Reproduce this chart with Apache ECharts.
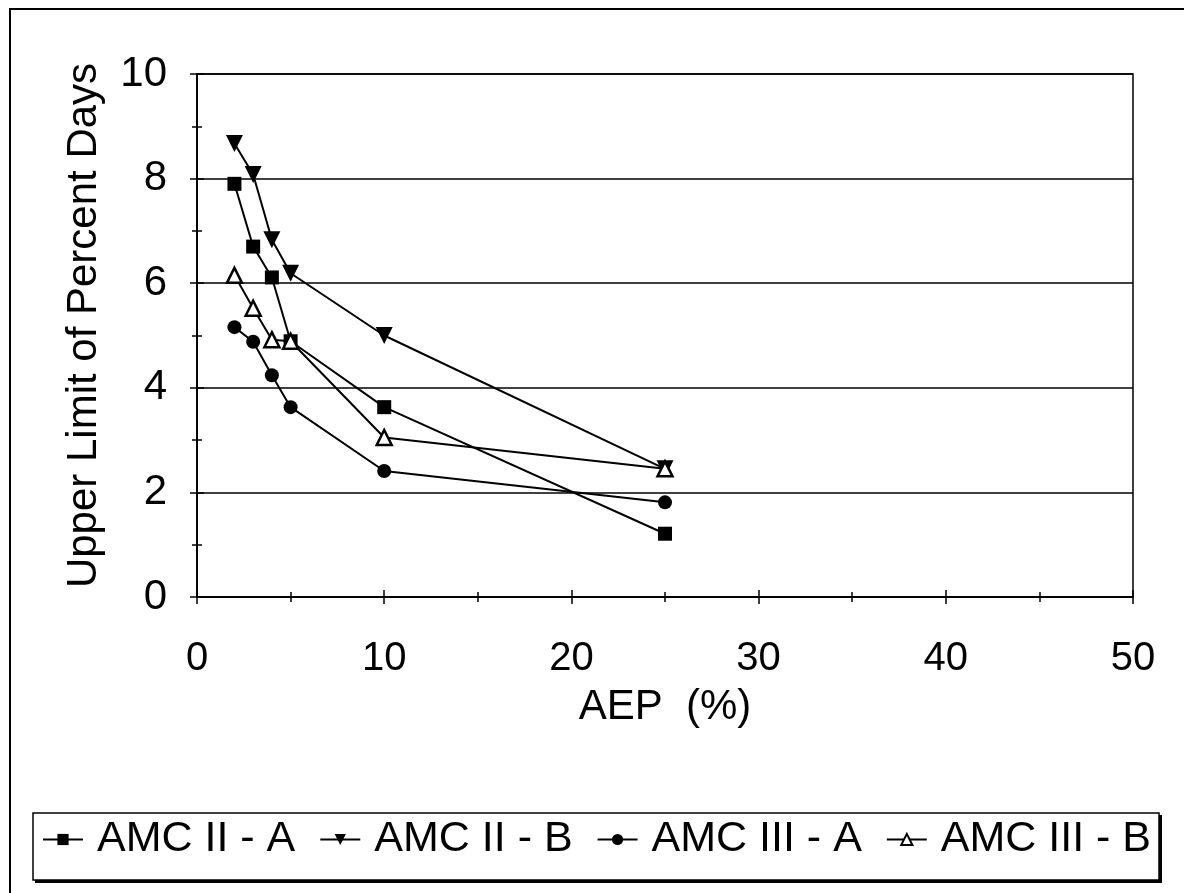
<!DOCTYPE html>
<html><head><meta charset="utf-8">
<script src="https://cdn.jsdelivr.net/npm/echarts@6/dist/echarts.min.js"></script>
<style>html,body{margin:0;padding:0;background:#fff}#c{width:1184px;height:893px}</style>
</head><body><div id="c"></div>
<script>
var aep = [2, 3, 4, 5, 10, 25];
var amc2A = [7.90, 6.70, 6.11, 4.89, 3.63, 1.21];
var amc2B = [8.67, 8.08, 6.83, 6.19, 5.00, 2.45];
var amc3A = [5.16, 4.88, 4.24, 3.63, 2.41, 1.81];
var amc3B = [6.15, 5.52, 4.92, 4.89, 3.05, 2.45];
var seriesNames = ['AMC II - A', 'AMC II - B', 'AMC III - A', 'AMC III - B'];
var xTicks = [0, 10, 20, 30, 40, 50];
var yTicks = [0, 2, 4, 6, 8, 10];

function pts(v){ return aep.map(function(x,i){ return [x, v[i]]; }); }
var FONT = '"Liberation Sans", Arial, sans-serif';
var chart = echarts.init(document.getElementById('c'));

function mkSeries(name, data, symbol, size, rotate, fill){
  return {
    name: name, type: 'line', data: pts(data), xAxisIndex: 0, yAxisIndex: 0,
    symbol: symbol, symbolSize: size, symbolRotate: rotate,
    lineStyle: {color: '#000', width: 2},
    itemStyle: {color: fill, borderColor: '#000', borderWidth: fill === '#fff' ? 2.5 : 0},
    emphasis: {disabled: true}, animation: false, z: 5
  };
}

var axisBase = {
  type: 'value', min: 0,
  axisLine: {show: true, lineStyle: {color: '#000', width: 1.5}},
  splitLine: {show: false}
};

chart.setOption({
  backgroundColor: '#fff',
  animation: false,
  grid: {left: 197, top: 74, right: 51, bottom: 296, show: true, borderColor: '#000', borderWidth: 1.5, containLabel: false},
  xAxis: [
    Object.assign({}, axisBase, {
      position: 'bottom', max: 50, interval: 10,
      name: 'AEP  (%)', nameLocation: 'middle', nameGap: 89,
      nameTextStyle: {fontFamily: FONT, fontSize: 42, color: '#000'},
      axisLabel: {fontFamily: FONT, fontSize: 40, color: '#000', margin: 42,
        formatter: function(v){ return xTicks.indexOf(v) >= 0 ? String(v) : ''; }},
      axisTick: {show: true, inside: false, length: 7, lineStyle: {color: '#000', width: 1.5}},
      minorTick: {show: true, splitNumber: 2, length: 5, lineStyle: {color: '#000', width: 1.5}}
    }),
    Object.assign({}, axisBase, {
      position: 'bottom', max: 50, interval: 10,
      axisLabel: {show: false},
      axisTick: {show: true, inside: true, length: 7, lineStyle: {color: '#000', width: 1.5}},
      minorTick: {show: true, splitNumber: 2, length: 5, lineStyle: {color: '#000', width: 1.5}}
    })
  ],
  yAxis: [
    Object.assign({}, axisBase, {
      position: 'left', max: 10, interval: 2,
      name: 'Upper Limit of Percent Days', nameLocation: 'middle', nameGap: 92,
      nameTextStyle: {fontFamily: FONT, fontSize: 42, color: '#000', padding: [0, 0, 0, 20]},
      axisLabel: {fontFamily: FONT, fontSize: 42, color: '#000', margin: 30,
        formatter: function(v){ return yTicks.indexOf(v) >= 0 ? String(v) : ''; }},
      axisTick: {show: true, inside: false, length: 7, lineStyle: {color: '#000', width: 1.5}},
      minorTick: {show: true, splitNumber: 2, length: 5, lineStyle: {color: '#000', width: 1.5}},
      splitLine: {show: true, lineStyle: {color: '#000', width: 1.5}}
    }),
    Object.assign({}, axisBase, {
      position: 'left', max: 10, interval: 2,
      axisLabel: {show: false},
      axisTick: {show: true, inside: true, length: 7, lineStyle: {color: '#000', width: 1.5}},
      minorTick: {show: true, splitNumber: 2, length: 5, lineStyle: {color: '#000', width: 1.5}}
    })
  ],
  legend: {
    data: seriesNames, left: 37, top: 813, padding: 5,
    itemWidth: 40, itemHeight: 14, itemGap: 24,
    textStyle: {fontFamily: FONT, fontSize: 43, color: '#000', padding: [0, 0, 0, 9]},
    selectedMode: false
  },
  graphic: [
    {type: 'rect', shape: {x: 10, y: 9, width: 1200, height: 900}, style: {fill: 'none', stroke: '#000', lineWidth: 2}, silent: true},
    {type: 'rect', shape: {x: 35, y: 815, width: 1127, height: 68}, style: {fill: '#000'}, silent: true, z: 0},
    {type: 'rect', shape: {x: 33, y: 813, width: 1126, height: 67}, style: {fill: '#fff', stroke: '#000', lineWidth: 1.5}, silent: true, z: 1}
  ],
  series: [
    mkSeries(seriesNames[0], amc2A, 'rect', 14, 0, '#000'),
    mkSeries(seriesNames[1], amc2B, 'triangle', 17, 180, '#000'),
    mkSeries(seriesNames[2], amc3A, 'circle', 14, 0, '#000'),
    mkSeries(seriesNames[3], amc3B, 'triangle', 15, 0, '#fff')
  ]
});
</script></body></html>
